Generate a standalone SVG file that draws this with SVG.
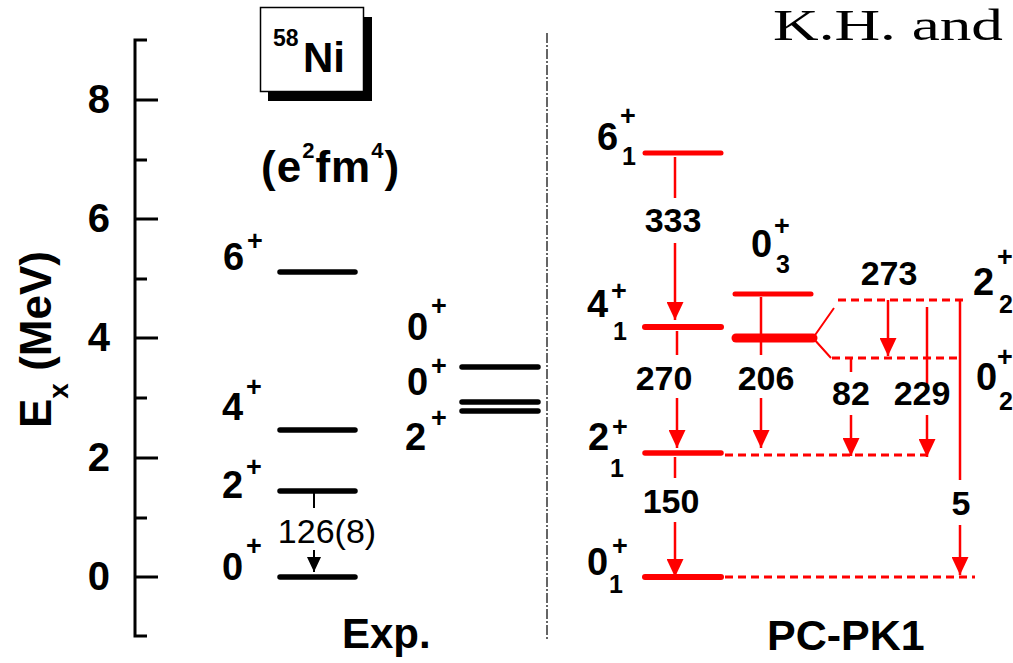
<svg xmlns="http://www.w3.org/2000/svg" width="1013" height="663" viewBox="0 0 1013 663">
<defs>
<style>
text{font-family:"Liberation Sans",Arial,sans-serif;font-weight:bold;fill:#000}
.tick{font-size:40px;text-anchor:end}
.lab{font-size:38px}
.sup{font-size:27px}
.sub{font-size:25px}
.tr{font-size:34px;text-anchor:middle}
.lvk{stroke:#000;stroke-width:5.5;stroke-linecap:round;fill:none}
.lvr{stroke:#f00;stroke-linecap:round;fill:none}
.dash{stroke:#f00;stroke-width:2.8;stroke-dasharray:8,5;fill:none}
.arr{stroke:#f00;stroke-width:2.5;fill:none}
</style>
<marker id="ah" viewBox="0 0 18 17" refX="18" refY="8.5" markerWidth="18" markerHeight="17" markerUnits="userSpaceOnUse" orient="auto">
<path d="M0,0 L18,8.5 L0,17 z" fill="#f00"/>
</marker>
<marker id="ahk" viewBox="0 0 15 14" refX="15" refY="7" markerWidth="15" markerHeight="14" markerUnits="userSpaceOnUse" orient="auto">
<path d="M0,0 L15,7 L0,14 z" fill="#000"/>
</marker>
</defs>
<rect width="1013" height="663" fill="#fff"/>

<g id="axis">
<path d="M147,40 H135 V636 H147" stroke="#000" stroke-width="3" fill="none"/>
<path d="M135,100 H158 M135,219 H158 M135,338 H158 M135,458 H158 M135,577 H158 M135,160 H147 M135,279 H147 M135,398 H147 M135,518 H147" stroke="#000" stroke-width="3"/>
<text class="tick" x="110" y="113">8</text>
<text class="tick" x="110" y="232">6</text>
<text class="tick" x="110" y="351">4</text>
<text class="tick" x="110" y="471">2</text>
<text class="tick" x="110" y="590">0</text>
<text transform="translate(51,428) rotate(-90)" font-size="44">E<tspan font-size="28" dy="17">x</tspan><tspan dy="-17"> (MeV)</tspan></text>
</g>

<g id="title-box">
<rect x="268" y="17" width="104" height="84" fill="#000"/>
<rect x="260.5" y="7.5" width="103" height="84" fill="#fff" stroke="#000" stroke-width="1.5"/>
<text x="273" y="46" font-size="23">58</text>
<text x="303" y="72" font-size="42">Ni</text>
</g>

<g id="units">
<text x="261" y="182" font-size="44" letter-spacing="1">(e<tspan font-size="22" dy="-24">2</tspan><tspan dy="24">fm</tspan><tspan font-size="22" dy="-24">4</tspan><tspan dy="24">)</tspan></text>
</g>

<g id="header-text">
<text x="773" y="40" font-size="44" textLength="230" lengthAdjust="spacingAndGlyphs" style="font-family:'Liberation Serif','Times New Roman',serif;font-weight:normal">K.H. and</text>
</g>

<g id="separator">
<path d="M547,33 V640" stroke="#333" stroke-width="1.5" stroke-dasharray="10,2,2,2"/>
</g>

<g id="exp-6">
<path class="lvk" d="M280,272 H355"/>
<text class="lab" x="223" y="270">6</text><text class="sup" x="247" y="250">+</text>
</g>
<g id="exp-4">
<path class="lvk" d="M280,430 H355"/>
<text class="lab" x="222" y="420">4</text><text class="sup" x="246" y="396">+</text>
</g>
<g id="exp-2">
<path class="lvk" d="M280,491 H355"/>
<text class="lab" x="222" y="498">2</text><text class="sup" x="246" y="476">+</text>
</g>
<g id="exp-0">
<path class="lvk" d="M280,577 H355"/>
<text class="lab" x="222" y="580">0</text><text class="sup" x="246" y="555">+</text>
</g>
<g id="exp-0b">
<path class="lvk" d="M462,367 H538" stroke-width="6"/>
<text class="lab" x="407" y="340">0</text><text class="sup" x="431" y="315">+</text>
</g>
<g id="exp-0c">
<path class="lvk" d="M462,402 H538" stroke-width="6"/>
<text class="lab" x="407" y="395">0</text><text class="sup" x="431" y="375">+</text>
</g>
<g id="exp-2b">
<path class="lvk" d="M462,411 H538" stroke-width="6"/>
<text class="lab" x="405" y="450">2</text><text class="sup" x="431" y="427">+</text>
</g>
<text x="342" y="648" font-size="42">Exp.</text>

<g id="th-6-1">
<path class="lvr" d="M645,153 H721" stroke-width="5"/>
<text class="lab" x="597" y="150" font-size="39">6</text><text class="sup" x="620" y="125">+</text><text class="sub" x="622" y="165">1</text>
</g>
<g id="th-4-1">
<path class="lvr" d="M645,327 H721" stroke-width="6"/>
<text class="lab" x="587" y="317" font-size="39">4</text><text class="sup" x="611" y="300">+</text><text class="sub" x="613" y="340">1</text>
</g>
<g id="th-2-1">
<path class="lvr" d="M645,453 H721" stroke-width="5.5"/>
<text class="lab" x="588" y="450" font-size="39">2</text><text class="sup" x="612" y="436">+</text><text class="sub" x="610" y="477">1</text>
</g>
<g id="th-0-1">
<path class="lvr" d="M645,577 H721" stroke-width="6"/>
<text class="lab" x="587" y="575" font-size="39">0</text><text class="sup" x="612" y="555">+</text><text class="sub" x="609" y="593">1</text>
</g>
<g id="th-0-3">
<path class="lvr" d="M735,294 H811" stroke-width="5"/>
<text class="lab" x="751" y="257" font-size="39">0</text><text class="sup" x="774" y="235">+</text><text class="sub" x="776" y="273">3</text>
</g>
<g id="th-fork">
<path class="lvr" d="M736,338 H813" stroke-width="9"/>
<path d="M813,338 L834,308 M813,338 L831,358" stroke="#f00" stroke-width="2" fill="none"/>
</g>
<g id="th-2-2">
<path class="dash" d="M838,300 H968"/>
<text class="lab" x="973" y="295" font-size="39">2</text><text class="sup" x="997" y="266">+</text><text class="sub" x="999" y="313">2</text>
</g>
<g id="th-0-2">
<path class="dash" d="M832,358 H962"/>
<text class="lab" x="976" y="390" font-size="39">0</text><text class="sup" x="997" y="366">+</text><text class="sub" x="999" y="410">2</text>
</g>
<text x="767" y="650" font-size="43">PC-PK1</text>

<g id="connectors">
<path class="dash" d="M725,455 H927 M725,577 H975"/>
<path d="M314,491 V508 M314,550 V572" stroke="#000" stroke-width="2" fill="none" marker-end="url(#ahk)"/>
<path class="arr" d="M675,157 V198"/><path class="arr" d="M675,243 V320" marker-end="url(#ah)"/>
<path class="arr" d="M677,331 V355"/><path class="arr" d="M677,398 V448" marker-end="url(#ah)"/>
<path class="arr" d="M761,297 V355"/><path class="arr" d="M761,398 V448" marker-end="url(#ah)"/>
<path class="arr" d="M675,457 V478"/><path class="arr" d="M675,522 V577" marker-end="url(#ah)"/>
<path class="arr" d="M888,300 V356" stroke-width="2" marker-end="url(#ah)"/>
<path class="arr" d="M927,307 V390" stroke-width="2"/><path class="arr" d="M927,415 V457" stroke-width="2" marker-end="url(#ah)"/>
<path class="arr" d="M851,358 V372" stroke-width="2"/><path class="arr" d="M851,415 V456" stroke-width="2" marker-end="url(#ah)"/>
<path class="arr" d="M960,300 V480" stroke-width="1.5"/><path class="arr" d="M960,525 V575" stroke-width="1.5" marker-end="url(#ah)"/>
</g>

<g id="labels">
<text x="327" y="543" font-size="34" text-anchor="middle" style="font-weight:normal">126(8)</text>
<text class="tr" x="673" y="232">333</text>
<text class="tr" x="664" y="390">270</text>
<text class="tr" x="766" y="390">206</text>
<text class="tr" x="671" y="513">150</text>
<text class="tr" x="889" y="285">273</text>
<text class="tr" x="922" y="405">229</text>
<text class="tr" x="851" y="405">82</text>
<text class="tr" x="961" y="515">5</text>
</g>
</svg>
